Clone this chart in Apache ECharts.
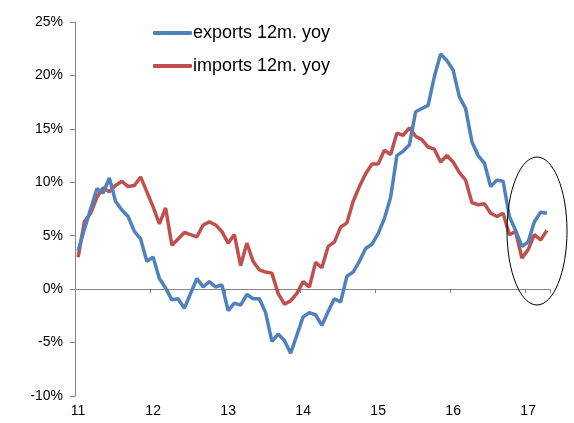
<!DOCTYPE html>
<html>
<head>
<meta charset="utf-8">
<script src="https://cdn.jsdelivr.net/npm/echarts@6/dist/echarts.min.js"></script>
<style>
  html, body { margin: 0; padding: 0; background: #fff; }
  #chart { width: 574px; height: 423px; }
</style>
</head>
<body>
<div id="chart"></div>
<script>
// year tick labels, one per January
var yearLabels = ['11', '12', '13', '14', '15', '16', '17'];

// monthly, Jan 2011 .. Apr 2017, % change 12m yoy
var exportsYoy = [
    3.6, 5.6, 7.5, 9.4, 9.0, 10.4, 8.2, 7.4, 6.8, 5.4, 4.7, 2.6,
    3.0, 1.0, 0.1, -1.0, -0.9, -1.8, -0.4, 1.0, 0.2, 0.7, 0.2, 0.4,
    -2.0, -1.3, -1.5, -0.5, -0.9, -0.9, -2.2, -4.9, -4.2, -4.8, -6.0, -4.3,
    -2.6, -2.2, -2.4, -3.4, -2.1, -0.9, -1.2, 1.2, 1.6, 2.6, 3.8, 4.2,
    5.2, 6.6, 8.6, 12.5, 12.9, 13.5, 16.6, 16.9, 17.2, 19.9, 22.0, 21.4,
    20.5, 18.0, 16.9, 13.8, 12.5, 11.8, 9.6, 10.2, 10.1, 6.8, 5.5, 4.0,
    4.4, 6.3, 7.2, 7.1
];
var importsYoy = [
    3.0, 6.3, 7.1, 8.6, 9.5, 9.1, 9.7, 10.1, 9.6, 9.7, 10.5, 9.1,
    7.7, 6.1, 7.6, 4.1, 4.7, 5.3, 5.1, 4.9, 6.0, 6.3, 6.0, 5.4,
    4.3, 5.1, 2.2, 4.3, 2.6, 1.8, 1.6, 1.5, -0.4, -1.4, -1.1, -0.4,
    0.7, 0.2, 2.5, 2.0, 4.0, 4.4, 5.8, 6.2, 8.2, 9.6, 10.8, 11.7,
    11.7, 13.0, 12.6, 14.6, 14.4, 15.1, 14.3, 14.0, 13.3, 13.1, 11.9, 12.5,
    11.9, 10.9, 10.2, 8.1, 7.9, 8.0, 7.1, 6.8, 7.1, 5.1, 5.4, 2.9,
    3.7, 5.1, 4.6, 5.5
];

var months = [];
for (var i = 0; i < exportsYoy.length; i++) {
    months.push(yearLabels[Math.floor(i / 12)] + '-' + ((i % 12) + 1));
}

var axisColor = '#868686';
var font = 'Liberation Sans, Arial, sans-serif';

var chart = echarts.init(document.getElementById('chart'));

var option = {
    animation: false,
    grid: { left: 75, right: 24, top: 22, bottom: 27 },
    legend: {
        orient: 'vertical',
        left: 148,
        top: 19,
        itemWidth: 39,
        itemHeight: 4,
        itemGap: 15,
        icon: 'roundRect',
        textStyle: { fontFamily: font, fontSize: 18, color: '#000', padding: [0, 0, 0, -4] },
        data: ['exports 12m. yoy', 'imports 12m. yoy']
    },
    xAxis: [
        {
            type: 'category',
            data: months,
            boundaryGap: true,
            position: 'bottom',
            axisLine: { show: false, onZero: false },
            axisTick: { show: false },
            axisLabel: {
                interval: 11,
                margin: 8,
                fontFamily: font,
                fontSize: 14,
                color: '#000',
                formatter: function (v) { return v.split('-')[0]; }
            },
            splitLine: { show: false }
        },
        {
            type: 'category',
            data: months,
            boundaryGap: true,
            position: 'top',
            axisLine: { show: true, onZero: true, lineStyle: { color: axisColor, width: 1 } },
            axisTick: { show: true, inside: true, interval: 11, length: 4, lineStyle: { color: axisColor } },
            axisLabel: { show: false },
            splitLine: { show: false }
        }
    ],
    yAxis: {
        type: 'value',
        min: -10,
        max: 25,
        interval: 5,
        axisLine: { show: true, lineStyle: { color: axisColor, width: 1 } },
        axisTick: { show: true, length: 5, lineStyle: { color: axisColor } },
        axisLabel: {
            margin: 12,
            fontFamily: font,
            fontSize: 14,
            color: '#000',
            formatter: function (v) { return v + '%'; }
        },
        splitLine: { show: false }
    },
    series: [
        {
            name: 'exports 12m. yoy',
            type: 'line',
            xAxisIndex: 0,
            data: exportsYoy,
            showSymbol: false,
            color: '#4F81BD',
            lineStyle: { width: 3.5, color: '#4F81BD' },
            z: 3
        },
        {
            name: 'imports 12m. yoy',
            type: 'line',
            xAxisIndex: 0,
            data: importsYoy,
            showSymbol: false,
            color: '#C0504D',
            lineStyle: { width: 3.5, color: '#C0504D' },
            z: 2
        }
    ],
    graphic: [
        {
            type: 'ellipse',
            shape: { cx: 537, cy: 231, rx: 30, ry: 74 },
            style: { fill: 'none', stroke: '#000', lineWidth: 1 },
            z: 10
        }
    ]
};

chart.setOption(option);
</script>
</body>
</html>
